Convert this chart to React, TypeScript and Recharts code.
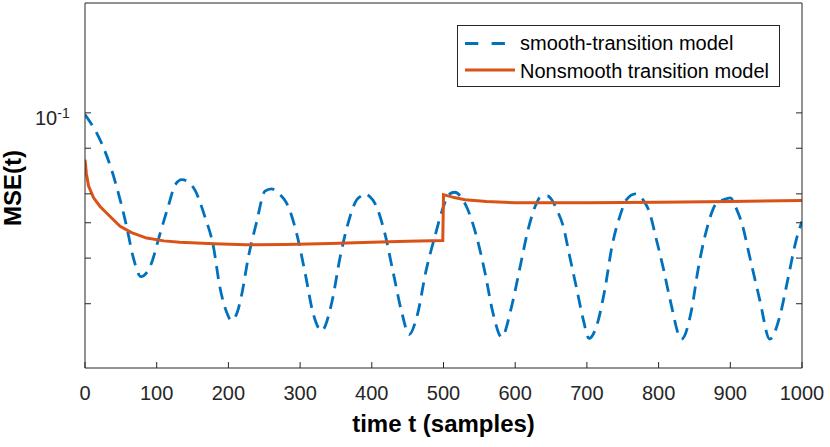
import React from 'react'
import { LineChart, Line, XAxis, YAxis, Legend } from 'recharts'

// values (log-scale MSE vs. sample index)
const smoothT = [
  0, 23, 37, 49, 58, 67, 78, 91, 105, 116, 126, 135, 146, 153, 167, 179, 188, 198, 204, 212, 218, 228, 239, 251, 260, 272,
  281, 295, 307, 318, 330, 344, 356, 367, 379, 384, 390, 397, 404, 418, 430, 442, 452, 463, 476, 488, 500, 507, 516, 525,
  532, 546, 558, 569, 581, 595, 607, 618, 630, 635, 645, 651, 658, 667, 676, 686, 695, 703, 716, 725, 735, 746, 755, 768,
  781, 786, 797, 807, 816, 832, 846, 855, 867, 881, 890, 900, 909, 916, 927, 941, 955, 969, 981, 992, 1000,
]
const smoothMse = [
  0.099, 0.0827, 0.0699, 0.0578, 0.0489, 0.0404, 0.0356, 0.038, 0.0469, 0.0554, 0.0636, 0.0656, 0.0642, 0.0616, 0.0521,
  0.0431, 0.0334, 0.0283, 0.027, 0.0283, 0.0314, 0.0404, 0.0499, 0.061, 0.0619, 0.0597, 0.0567, 0.0469, 0.0364, 0.0283,
  0.0253, 0.0301, 0.0404, 0.0499, 0.0578, 0.059, 0.0601, 0.059, 0.0567, 0.0469, 0.0364, 0.0283, 0.0247, 0.0277, 0.0372,
  0.0459, 0.0554, 0.0597, 0.0606, 0.0586, 0.0554, 0.0459, 0.0364, 0.0283, 0.0243, 0.0295, 0.038, 0.0479, 0.0567, 0.0588,
  0.0592, 0.0578, 0.0543, 0.0489, 0.0404, 0.0328, 0.0271, 0.0241, 0.0271, 0.0328, 0.0431, 0.0521, 0.0578, 0.06, 0.0567,
  0.0543, 0.0449, 0.0372, 0.0308, 0.024, 0.0289, 0.0372, 0.0479, 0.0567, 0.0578, 0.0585, 0.0543, 0.0499, 0.0404, 0.0308,
  0.024, 0.0277, 0.0356, 0.0449, 0.0504,
]

const nonsmoothT = [0, 2, 5, 12, 21, 35, 49, 65, 86, 110, 132, 180, 225, 280, 342, 400, 450, 499, 500, 515, 530, 560, 600, 700, 800, 900, 1000]
const nonsmoothMse = [
  0.0744, 0.068, 0.063, 0.0585, 0.0554, 0.052, 0.0489, 0.047, 0.0454, 0.0446, 0.0442, 0.0438, 0.0435, 0.0436, 0.0439,
  0.0442, 0.0445, 0.0447, 0.0597, 0.0586, 0.0578, 0.0572, 0.0567, 0.0567, 0.0569, 0.0572, 0.0575,
]

const xTicks = [0, 100, 200, 300, 400, 500, 600, 700, 800, 900, 1000]
const yTicks = [0.03, 0.04, 0.05, 0.06, 0.07, 0.08, 0.09, 0.1]

const smoothData = smoothT.map((t, i) => ({ t, mse: smoothMse[i] }))
const nonsmoothData = nonsmoothT.map((t, i) => ({ t, mse: nonsmoothMse[i] }))

const FONT = '"Liberation Sans", Arial, Helvetica, sans-serif'
const AXIS = '#262626'
const BLUE = '#0072BD'
const ORANGE = '#D95319'

const renderLegend = () => (
  <svg width={324} height={63} style={{ display: 'block' }}>
    <rect x={0.5} y={0.5} width={322} height={61} fill="#fff" stroke={AXIS} strokeWidth={1} />
    <line x1={8} x2={48} y1={18.5} y2={18.5} stroke={BLUE} strokeWidth={3} strokeDasharray="13.3 13.3" />
    <text x={63} y={25} fontFamily={FONT} fontSize={20} fill="#000">smooth-transition model</text>
    <line x1={8} x2={58} y1={45} y2={45} stroke={ORANGE} strokeWidth={3} />
    <text x={63} y={53} fontFamily={FONT} fontSize={20} fill="#000">Nonsmooth transition model</text>
  </svg>
)

export default function App() {
  return (
    <div style={{ position: 'absolute', left: 0, top: 0, width: 830, height: 447, background: '#fff' }}>
      <LineChart width={830} height={447} margin={{ top: 2, right: 27, bottom: 0, left: 0 }}>
        <XAxis
          dataKey="t"
          type="number"
          domain={[0, 1000]}
          ticks={xTicks}
          height={79}
          stroke={AXIS}
          tickSize={-6}
          tickMargin={6}
          tick={(p: any) => (
            <text x={p.x} y={p.y + 32} textAnchor="middle" fontFamily={FONT} fontSize={20} fill={AXIS}>
              {p.payload.value}
            </text>
          )}
          label={() => (
            <text x={443.5} y={432} textAnchor="middle" fontFamily={FONT} fontSize={24} fontWeight="bold" fill="#000">
              time t (samples)
            </text>
          )}
          allowDataOverflow
        />
        <XAxis
          xAxisId="top"
          orientation="top"
          type="number"
          domain={[0, 1000]}
          ticks={xTicks}
          height={1}
          stroke={AXIS}
          tickSize={-6}
          tick={() => <g />}
        />
        <YAxis
          scale="log"
          type="number"
          domain={[0.02, 0.2]}
          ticks={yTicks}
          width={85}
          stroke={AXIS}
          tickSize={-6}
          tickMargin={6}
          allowDataOverflow
          tick={(p: any) =>
            p.payload.value === 0.1 ? (
              <text x={35} y={p.y + 12.4} fontFamily={FONT} fontSize={20} fill={AXIS}>
                10<tspan dy={-7.4} fontSize={14}>-1</tspan>
              </text>
            ) : (
              <g />
            )
          }
          label={() => (
            <text
              x={21}
              y={188}
              transform="rotate(-90, 21, 188)"
              textAnchor="middle"
              fontFamily={FONT}
              fontSize={24}
              fontWeight="bold"
              fill="#000"
            >
              MSE(t)
            </text>
          )}
        />
        <YAxis
          yAxisId="right"
          orientation="right"
          scale="log"
          type="number"
          domain={[0.02, 0.2]}
          ticks={yTicks}
          width={1}
          stroke={AXIS}
          tickSize={-6}
          allowDataOverflow
          tick={() => <g />}
        />
        <Legend
          layout="horizontal"
          verticalAlign="middle"
          align="center"
          content={renderLegend}
          wrapperStyle={{ position: 'absolute', left: 457, top: 25, width: 324, height: 63 }}
        />
        <Line
          data={smoothData}
          dataKey="mse"
          name="smooth-transition model"
          type="monotone"
          stroke={BLUE}
          strokeWidth={2.8}
          strokeDasharray="13 8"
          dot={false}
          activeDot={false}
          isAnimationActive={false}
        />
        <Line
          data={nonsmoothData}
          dataKey="mse"
          name="Nonsmooth transition model"
          type="linear"
          stroke={ORANGE}
          strokeWidth={3}
          dot={false}
          activeDot={false}
          isAnimationActive={false}
        />
      </LineChart>
    </div>
  )
}
